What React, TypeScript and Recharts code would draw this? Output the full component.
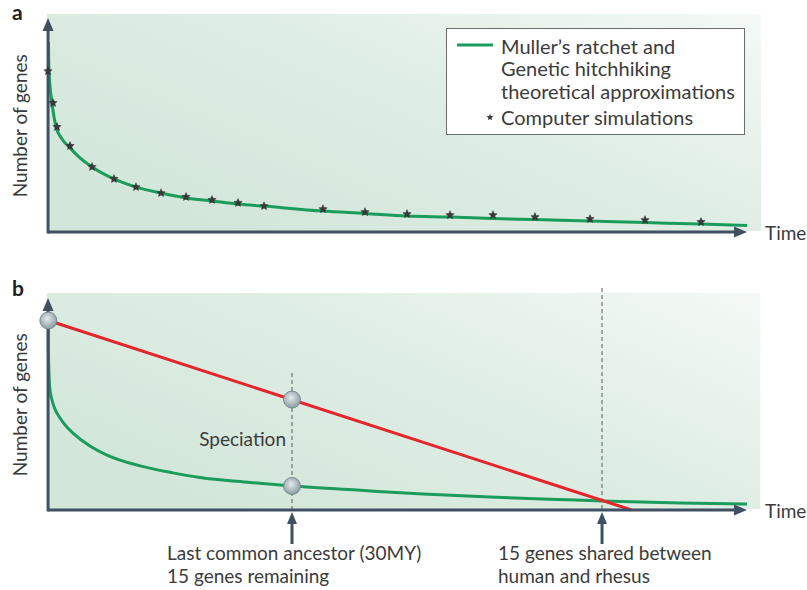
import React from 'react';
import {
  ComposedChart,
  Line,
  Scatter,
  XAxis,
  YAxis,
  ReferenceLine,
  ReferenceArea,
  Legend,
} from 'recharts';

// ---------- data (time 0-100, number of genes 0-100, arbitrary units) ----------
// Panel a: theoretical approximation curve
const theoryA = [
  { t: 0.21, n: 88.8 }, { t: 0.24, n: 80.4 }, { t: 0.29, n: 75.2 }, { t: 0.43, n: 68.2 },
  { t: 0.71, n: 60.3 }, { t: 1.29, n: 49.1 }, { t: 2.14, n: 43.5 }, { t: 3.29, n: 39.3 },
  { t: 4.71, n: 34.6 }, { t: 6.43, n: 30.4 }, { t: 9.57, n: 24.8 }, { t: 12.71, n: 21.0 },
  { t: 16.29, n: 18.2 }, { t: 19.86, n: 15.9 }, { t: 23.57, n: 14.5 }, { t: 27.29, n: 13.1 },
  { t: 31.0, n: 12.1 }, { t: 39.43, n: 9.8 }, { t: 45.43, n: 8.7 }, { t: 51.43, n: 7.5 },
  { t: 57.57, n: 7.0 }, { t: 63.71, n: 6.3 }, { t: 69.71, n: 5.8 }, { t: 77.57, n: 5.1 },
  { t: 85.43, n: 4.4 }, { t: 93.43, n: 3.7 }, { t: 100, n: 3.0 },
];
// Panel a: computer simulations
const simsA = [
  { t: 0.14, n: 75.2 }, { t: 0.86, n: 60.3 }, { t: 1.43, n: 49.1 }, { t: 3.29, n: 40.2 },
  { t: 6.43, n: 30.4 }, { t: 9.57, n: 24.8 }, { t: 12.71, n: 21.0 }, { t: 16.29, n: 18.2 },
  { t: 19.86, n: 16.4 }, { t: 23.57, n: 15.0 }, { t: 27.29, n: 13.6 }, { t: 31.0, n: 12.1 },
  { t: 39.43, n: 10.7 }, { t: 45.43, n: 9.3 }, { t: 51.43, n: 8.4 }, { t: 57.57, n: 7.9 },
  { t: 63.71, n: 7.9 }, { t: 69.71, n: 7.0 }, { t: 77.57, n: 6.1 }, { t: 85.43, n: 5.6 },
  { t: 93.43, n: 4.7 },
];
// Panel b: gene loss curve
const theoryB = [
  { t: 0.19, n: 89.4 }, { t: 0.2, n: 75.5 }, { t: 0.29, n: 63.7 }, { t: 0.43, n: 56.6 },
  { t: 0.71, n: 51.9 }, { t: 1.14, n: 47.6 }, { t: 1.86, n: 43.4 }, { t: 2.71, n: 39.6 },
  { t: 3.71, n: 36.3 }, { t: 6.14, n: 30.2 }, { t: 8.57, n: 25.9 }, { t: 13.29, n: 20.8 },
  { t: 18.0, n: 17.5 }, { t: 21.86, n: 15.3 }, { t: 29.0, n: 13.0 }, { t: 35.0, n: 11.3 },
  { t: 44.29, n: 9.4 }, { t: 53.71, n: 7.5 }, { t: 63.29, n: 6.1 }, { t: 72.86, n: 5.0 },
  { t: 79.29, n: 4.2 }, { t: 90.43, n: 3.3 }, { t: 100, n: 2.8 },
];
// Panel b: linear decline
const linearB = [
  { t: 0.19, n: 89.4 },
  { t: 83.5, n: 0 },
];
// Panel b: marked nodes
const nodesB = [
  { t: 0.19, n: 89.4 },
  { t: 35.0, n: 52.1 },
  { t: 35.0, n: 11.3 },
];
// Panel b: events (time, top of dashed marker)
const eventTimes = [35.0, 79.29];
const eventTops = [64.6, 104.7];
const eventCaptions = [
  ['Last common ancestor (30MY)', '15 genes remaining'],
  ['15 genes shared between', 'human and rhesus'],
];
const eventNotes = ['Speciation', ''];

const xTitle = 'Time';
const yTitle = 'Number of genes';
const panelLabels = ['a', 'b'];
const seriesNames = [
  'Muller’s ratchet and\nGenetic hitchhiking\ntheoretical approximations',
  'Computer simulations',
];

// ---------- styles ----------
const FONT = "Lato, 'Open Sans', sans-serif";
const TEXT = '#3b3b3b';
const AXIS = '#3e5061';
const GREEN = '#1b9c5c';
const RED = '#e4252b';
const FS = 19;
const LEGEND_FS = 20;
const captionDx = [-125, -104];

const starPoints = (cx: number, cy: number, r: number) => {
  const pts: string[] = [];
  for (let i = 0; i < 10; i++) {
    const rad = i % 2 === 0 ? r : r * 0.45;
    const a = -Math.PI / 2 + (i * Math.PI) / 5;
    pts.push(`${(cx + rad * Math.cos(a)).toFixed(2)},${(cy + rad * Math.sin(a)).toFixed(2)}`);
  }
  return pts.join(' ');
};

const StarShape = (p: any) => (
  <polygon points={starPoints(p.cx, p.cy, 4.4)} fill="#3a3a3a" stroke="#222" strokeWidth={0.4} />
);

const NodeShape = (p: any) => (
  <circle cx={p.cx} cy={p.cy} r={8.5} fill="url(#nodeGrad)" stroke="#6f8389" strokeWidth={0.9} />
);

const arrow = (x1: number, y1: number, x2: number, y2: number, L = 13, W = 5.5, sw = 3) => {
  const dx = x2 - x1;
  const dy = y2 - y1;
  const len = Math.hypot(dx, dy) || 1;
  const ux = dx / len;
  const uy = dy / len;
  const bx = x2 - ux * L;
  const by = y2 - uy * L;
  return (
    <g>
      <line x1={x1} y1={y1} x2={bx + ux * 2} y2={by + uy * 2} stroke={AXIS} strokeWidth={sw} />
      <polygon
        points={`${x2},${y2} ${bx - uy * W},${by + ux * W} ${bx + uy * W},${by - ux * W}`}
        fill={AXIS}
      />
    </g>
  );
};

const YAxisShape = (p: any) => {
  const { x1, y1, y2 } = p;
  const top = Math.min(y1, y2);
  const bottom = Math.max(y1, y2);
  const cy = (top + bottom) / 2;
  const lx = x1 - 21;
  return (
    <g>
      {arrow(x1, bottom, x1, top)}
      <text
        x={lx}
        y={cy}
        transform={`rotate(-90 ${lx} ${cy})`}
        textAnchor="middle"
        fontFamily={FONT}
        fontSize={FS}
        fill={TEXT}
      >
        {yTitle}
      </text>
    </g>
  );
};

const XAxisShape = (p: any) => {
  const { x1, y1, x2, y2 } = p;
  return (
    <g>
      {arrow(x1, y1, x2, y2)}
      <text x={x2 + 18} y={y2 + 8} fontFamily={FONT} fontSize={FS} fill={TEXT}>
        {xTitle}
      </text>
    </g>
  );
};

const makeEventShape = (i: number) => (p: any) => {
  const { x1, y1, y2 } = p;
  const top = Math.min(y1, y2);
  const bottom = Math.max(y1, y2);
  const tx = x1 + captionDx[i];
  return (
    <g>
      <line x1={x1} y1={top} x2={x1} y2={bottom} stroke="#5a5a5a" strokeWidth={1} strokeDasharray="4 3" />
      <line x1={x1} y1={bottom + 34} x2={x1} y2={bottom + 12} stroke={AXIS} strokeWidth={3} />
      <polygon
        points={`${x1},${bottom + 2} ${x1 - 5},${bottom + 14} ${x1 + 5},${bottom + 14}`}
        fill={AXIS}
      />
      {eventNotes[i] ? (
        <text x={x1 - 6} y={bottom - 64} textAnchor="end" fontFamily={FONT} fontSize={FS} fill={TEXT}>
          {eventNotes[i]}
        </text>
      ) : null}
      {eventCaptions[i].map((s, k) => (
        <text key={k} x={tx} y={bottom + 50 + k * 23} fontFamily={FONT} fontSize={FS} fill={TEXT}>
          {s}
        </text>
      ))}
    </g>
  );
};

const LegendBox = (props: any) => {
  const payload = props.payload || [];
  return (
    <div
      style={{
        position: 'relative',
        width: 297,
        height: 105,
        border: '1px solid #6c6c6c',
        background: '#fff',
        fontFamily: FONT,
        fontSize: LEGEND_FS,
        color: TEXT,
      }}
    >
      {payload.map((entry: any, i: number) => {
        const isLine = entry.type === 'line';
        return (
          <React.Fragment key={i}>
            {isLine ? (
              <svg style={{ position: 'absolute', left: 10, top: 14 }} width={36} height={4}>
                <line x1={0} y1={2} x2={36} y2={2} stroke={GREEN} strokeWidth={3} />
              </svg>
            ) : (
              <svg style={{ position: 'absolute', left: 38, top: 83 }} width={10} height={10}>
                <polygon points={starPoints(5, 5.4, 3.6)} fill="#3a3a3a" />
              </svg>
            )}
            <div
              style={{
                position: 'absolute',
                left: 54,
                top: isLine ? 5.5 : 76.5,
                lineHeight: '22.5px',
                whiteSpace: 'pre',
              }}
            >
              {entry.value}
            </div>
          </React.Fragment>
        );
      })}
    </div>
  );
};

const PanelA = () => (
  <ComposedChart width={807} height={270} margin={{ top: 18, right: 60, bottom: 38, left: 47 }}>
    <defs>
      <linearGradient id="bgA" x1="0" y1="0.7" x2="1" y2="0">
        <stop offset="0" stopColor="#d2e6d9" />
        <stop offset="0.55" stopColor="#e0eee5" />
        <stop offset="1" stopColor="#f4f9f6" />
      </linearGradient>
    </defs>
    <XAxis type="number" dataKey="t" domain={[0, 100]} hide />
    <YAxis type="number" dataKey="n" domain={[0, 100]} hide />
    <ReferenceArea x1={0} x2={102} y1={0.5} y2={101.9} ifOverflow="visible" fill="url(#bgA)" fillOpacity={1} stroke="none" />
    <Line
      data={theoryA}
      dataKey="n"
      name={seriesNames[0]}
      type="monotone"
      stroke={GREEN}
      strokeWidth={3}
      dot={false}
      activeDot={false}
      legendType="line"
      isAnimationActive={false}
    />
    <Scatter
      data={simsA}
      dataKey="n"
      name={seriesNames[1]}
      legendType="star"
      shape={StarShape}
      isAnimationActive={false}
    />
    <ReferenceLine segment={[{ x: 0.15, y: -0.7 }, { x: 0.15, y: 100 }]} ifOverflow="visible" shape={YAxisShape} />
    <ReferenceLine segment={[{ x: 0.15, y: 0 }, { x: 100, y: 0 }]} ifOverflow="visible" shape={XAxisShape} />
    <Legend
      content={LegendBox}
      layout="horizontal"
      verticalAlign="middle"
      align="center"
      wrapperStyle={{ left: 446, top: 28, width: 299, height: 107 }}
    />
  </ComposedChart>
);

const PanelB = () => (
  <ComposedChart width={807} height={310} margin={{ top: 18, right: 60, bottom: 80, left: 47 }}>
    <defs>
      <linearGradient id="bgB" x1="0" y1="0.7" x2="1" y2="0">
        <stop offset="0" stopColor="#d2e6d9" />
        <stop offset="0.55" stopColor="#e0eee5" />
        <stop offset="1" stopColor="#f4f9f6" />
      </linearGradient>
      <radialGradient id="nodeGrad" cx="0.45" cy="0.4" r="0.6">
        <stop offset="0" stopColor="#e4ebec" />
        <stop offset="0.6" stopColor="#adbbbe" />
        <stop offset="1" stopColor="#8a9da1" />
      </radialGradient>
    </defs>
    <XAxis type="number" dataKey="t" domain={[0, 100]} hide />
    <YAxis type="number" dataKey="n" domain={[0, 100]} hide />
    <ReferenceArea x1={0} x2={101.9} y1={0.5} y2={102.4} ifOverflow="visible" fill="url(#bgB)" fillOpacity={1} stroke="none" />
    {eventTimes.map((et, i) => (
      <ReferenceLine
        key={i}
        segment={[{ x: et, y: eventTops[i] }, { x: et, y: 0 }]}
        ifOverflow="visible"
        shape={makeEventShape(i)}
      />
    ))}
    <Line
      data={theoryB}
      dataKey="n"
      type="monotone"
      stroke={GREEN}
      strokeWidth={3}
      dot={false}
      activeDot={false}
      isAnimationActive={false}
    />
    <Line
      data={linearB}
      dataKey="n"
      type="linear"
      stroke={RED}
      strokeWidth={3}
      dot={false}
      activeDot={false}
      isAnimationActive={false}
    />
    <Scatter data={nodesB} dataKey="n" shape={NodeShape} isAnimationActive={false} />
    <ReferenceLine segment={[{ x: 0.15, y: -0.7 }, { x: 0.15, y: 100 }]} ifOverflow="visible" shape={YAxisShape} />
    <ReferenceLine segment={[{ x: 0.15, y: 0 }, { x: 100, y: 0 }]} ifOverflow="visible" shape={XAxisShape} />
  </ComposedChart>
);

export default function App() {
  const letterStyle: React.CSSProperties = {
    position: 'absolute',
    left: 12,
    fontFamily: FONT,
    fontSize: 21,
    fontWeight: 700,
    lineHeight: 1,
    color: '#222',
  };
  return (
    <div style={{ position: 'absolute', left: 0, top: 0, width: 807, height: 590, background: '#fff' }}>
      <div style={{ position: 'absolute', left: 0, top: 0 }}>
        <PanelA />
      </div>
      <div style={{ position: 'absolute', left: 0, top: 280 }}>
        <PanelB />
      </div>
      <div style={{ ...letterStyle, top: 1 }}>{panelLabels[0]}</div>
      <div style={{ ...letterStyle, top: 277 }}>{panelLabels[1]}</div>
    </div>
  );
}
